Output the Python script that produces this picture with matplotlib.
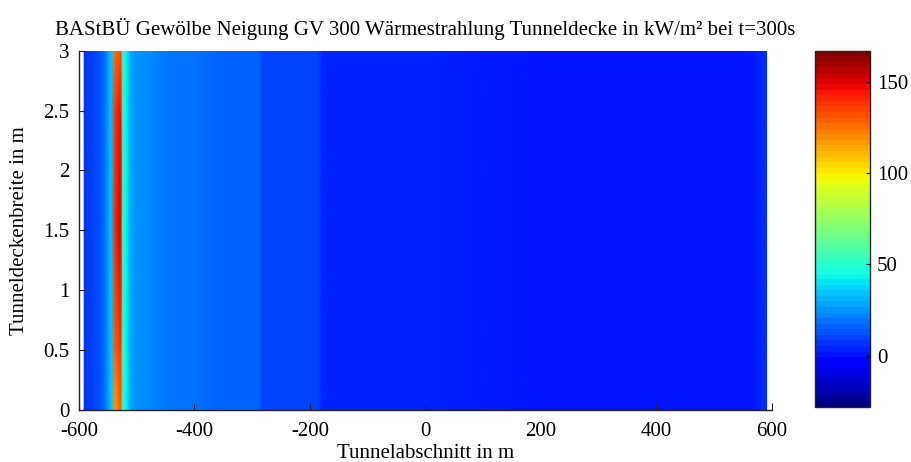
import numpy as np
import matplotlib
matplotlib.use("Agg")
import matplotlib.pyplot as plt
from matplotlib.cm import ScalarMappable
from matplotlib.colors import Normalize

plt.rcParams['font.family'] = ['Liberation Serif', 'DejaVu Serif']
plt.rcParams['axes.unicode_minus'] = False

# Positionen entlang des Tunnels (m) und über die Deckenbreite (m)
x_pos = [-591, -575, -563, -555, -545, -537, -528, -524, -518, -510, -500,
         -470, -440, -400, -360, -320, -290, -281, -250, -220, -187, -178,
         -100, 0, 200, 400, 560, 577, 591]
y_pos = [0, 0.5, 1.5, 2.5, 3]

# Wärmestrahlung (kW/m²) entlang der Deckenmitte
profile = [8, 9, 12, 19, 35, 140, 150, 50, 45, 28, 24,
           21, 20, 19, 17, 16, 15, 11, 11, 10, 10, 4,
           3, 3, 2, 2, 2, 5, 6]

# Maximalwerte am Brandherd je Reihe (Spalten -537 und -528)
peak_left = [118, 130, 140, 138, 125]
peak_right = [128, 138, 152, 148, 132]

vmin, vmax = -28.2, 167.1

Z = np.array([profile] * len(y_pos), dtype=float)
Z[:, 5] = peak_left
Z[:, 6] = peak_right
X, Y = np.meshgrid(x_pos, y_pos)

cmap = plt.get_cmap('jet', 64)

fig = plt.figure(figsize=(9.12, 4.62), dpi=100)
ax = fig.add_axes([0.0866, 0.1126, 0.7596, 0.7777])
cax = fig.add_axes([0.8933, 0.1184, 0.0606, 0.772])

ax.pcolormesh(X, Y, Z, shading='gouraud', cmap=cmap, vmin=vmin, vmax=vmax)

ax.set_xlim(-600, 600)
ax.set_ylim(0, 3)
ax.set_xticks([-600, -400, -200, 0, 200, 400, 600])
ax.set_yticks([0, 0.5, 1, 1.5, 2, 2.5, 3])
ax.set_yticklabels(['0', '0.5', '1', '1.5', '2', '2.5', '3'])
ax.spines['top'].set_visible(False)
ax.spines['right'].set_visible(False)
for s in ['left', 'bottom']:
    ax.spines[s].set_color('#222222')
    ax.spines[s].set_linewidth(1.0)
ax.tick_params(direction='in', length=5, labelsize=15, colors='#222222',
               labelcolor='black')
ax.tick_params(axis='x', pad=9)
ax.tick_params(axis='y', pad=7)

ax.set_title('BAStBÜ Gewölbe Neigung GV 300 Wärmestrahlung Tunneldecke in kW/m² bei t=300s',
             fontsize=15, pad=11)
ax.set_xlabel('Tunnelabschnitt in m', fontsize=15, labelpad=2)
ax.set_ylabel('Tunneldeckenbreite in m', fontsize=15, labelpad=10)

sm = ScalarMappable(norm=Normalize(vmin=vmin, vmax=vmax), cmap=cmap)
cb = fig.colorbar(sm, cax=cax)
cb.set_ticks([0, 50, 100, 150])
cb.outline.set_linewidth(1.0)
cb.outline.set_edgecolor('#222222')
cax.tick_params(direction='in', length=3, labelsize=15, pad=5)

fig.savefig('out.png', dpi=100)
